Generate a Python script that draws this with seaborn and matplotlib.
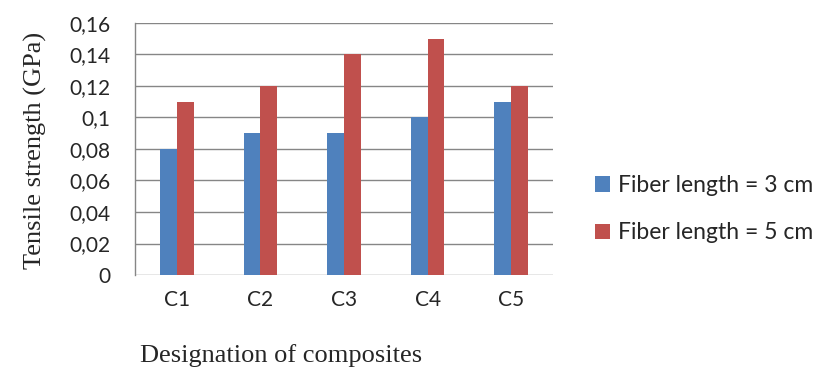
import pandas as pd
import seaborn as sns
import matplotlib.pyplot as plt
from matplotlib.ticker import FuncFormatter, MultipleLocator

# Data
composites = ["C1", "C2", "C3", "C4", "C5"]
fiber_3cm = [0.08, 0.09, 0.09, 0.10, 0.11]
fiber_5cm = [0.11, 0.12, 0.14, 0.15, 0.12]
series_names = ["Fiber length = 3 cm", "Fiber length = 5 cm"]

df = pd.DataFrame({
    "composite": composites * 2,
    "strength": fiber_3cm + fiber_5cm,
    "series": [series_names[0]] * 5 + [series_names[1]] * 5,
})

sns.set_style("white")
plt.rcParams["font.family"] = ["Lato", "DejaVu Sans"]

fig, ax = plt.subplots(figsize=(8.24, 3.89), dpi=100)
fig.subplots_adjust(left=0.164, right=0.671, top=0.941, bottom=0.293)

sns.barplot(data=df, x="composite", y="strength", hue="series",
            palette=["#4F81BD", "#C0504D"], width=0.4, saturation=1,
            edgecolor="none", ax=ax, zorder=3)

ax.set_ylim(0, 0.16)
ax.yaxis.set_major_locator(MultipleLocator(0.02))
ax.yaxis.set_major_formatter(FuncFormatter(lambda v, p: f"{v:g}".replace(".", ",")))
ax.grid(axis="y", color="#868686", linewidth=1.0, zorder=0)
ax.set_axisbelow(True)

for s in ["top", "right", "bottom"]:
    ax.spines[s].set_visible(False)
ax.spines["left"].set_color("#868686")
ax.spines["left"].set_linewidth(1.0)

ax.tick_params(axis="y", direction="out", length=6, width=1.0, color="#868686",
               labelsize=15, pad=12)
ax.tick_params(axis="x", length=0, labelsize=15, pad=11)
ax.set_xlim(-0.5, 4.5)

ax.set_ylabel("Tensile strength (GPa)", family="Liberation Serif", fontsize=19)
ax.yaxis.set_label_coords(-0.21, 0.496)
ax.set_xlabel("Designation of composites", family="Liberation Serif", fontsize=19)
ax.xaxis.set_label_coords(0.35, -0.275)

leg = ax.legend(loc="center left", bbox_to_anchor=(0.722, 0.462), bbox_transform=fig.transFigure,
                frameon=False, fontsize=16.5, handlelength=0.66, handleheight=0.66,
                handletextpad=0.33, labelspacing=1.15, borderpad=0, borderaxespad=0)

fig.savefig("out.png", dpi=100)
